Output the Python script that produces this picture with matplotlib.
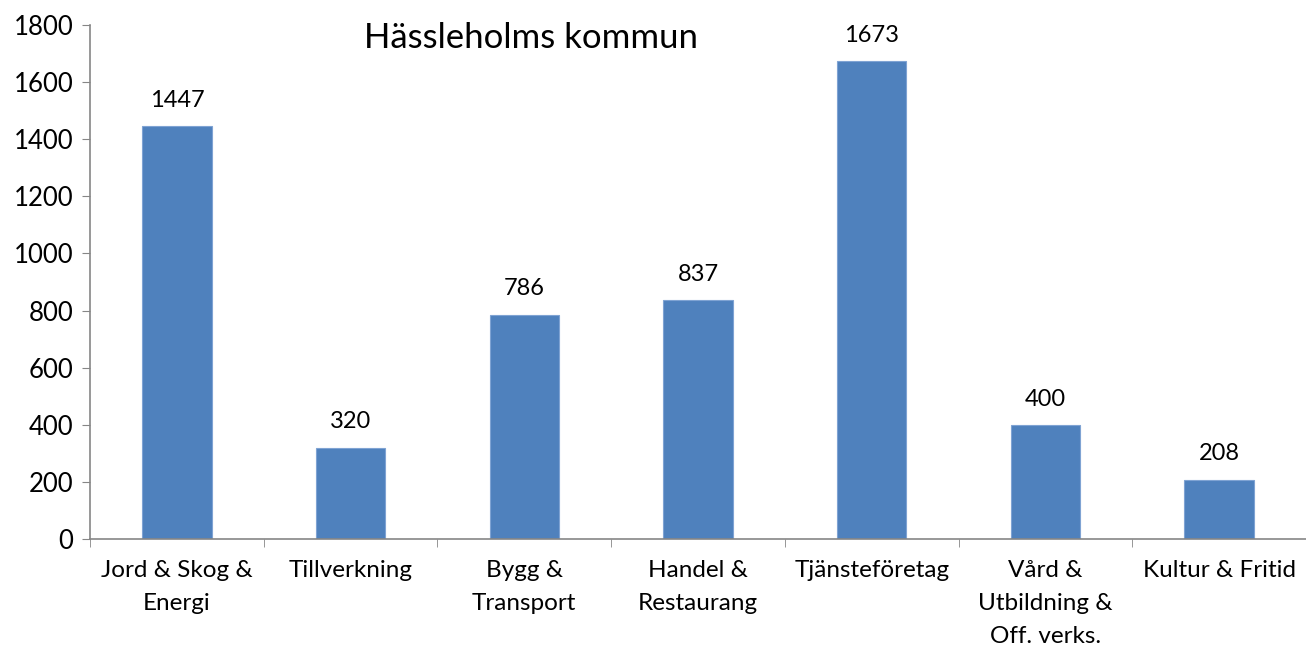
import matplotlib
matplotlib.use("Agg")
import matplotlib.pyplot as plt

categories = ["Jord & Skog &\nEnergi", "Tillverkning", "Bygg &\nTransport", "Handel &\nRestaurang",
              "Tjänsteföretag", "Vård &\nUtbildning &\nOff. verks.", "Kultur & Fritid"]
values = [1447, 320, 786, 837, 1673, 400, 208]
yticks = [0, 200, 400, 600, 800, 1000, 1200, 1400, 1600, 1800]
title = "Hässleholms kommun"

plt.rcParams['font.family'] = ['Lato', 'DejaVu Sans']

fig = plt.figure(figsize=(13.06, 6.48), dpi=100)
ax = fig.add_axes([90/1306, 1-539/648, 1-90/1306, 514/648])

x = list(range(len(categories)))
bars = ax.bar(x, values, width=0.4, color="#4F81BD", edgecolor="#7FA3D3", linewidth=0.8)
for xi, v in zip(x, values):
    ax.annotate(str(v), (xi, v), xytext=(0, 11), textcoords="offset points",
                ha="center", va="bottom", fontsize=17)

ax.set_xlim(-0.5, len(categories) - 0.5)
ax.set_ylim(0, 1800)
ax.set_yticks(yticks)
ax.set_yticklabels([str(t) for t in yticks], fontsize=18.5)
ax.set_xticks(x)
ax.set_xticklabels(categories, fontsize=17.5, linespacing=1.72, va="top")
ax.tick_params(axis="x", length=0, pad=15)
ax.tick_params(axis="y", length=6, color="#868686", pad=6)
# boundary ticks on x axis
ax.set_xticks([i - 0.5 for i in range(len(categories) + 1)], minor=True)
ax.tick_params(axis="x", which="minor", length=6, color="#868686", direction="out")

for s in ["top", "right"]:
    ax.spines[s].set_visible(False)
for s in ["left", "bottom"]:
    ax.spines[s].set_color("#868686")
    ax.spines[s].set_linewidth(1.2)

ax.text(0.363, 0.975, title, transform=ax.transAxes, ha="center", va="center", fontsize=25)

fig.savefig("out.png", dpi=100)
